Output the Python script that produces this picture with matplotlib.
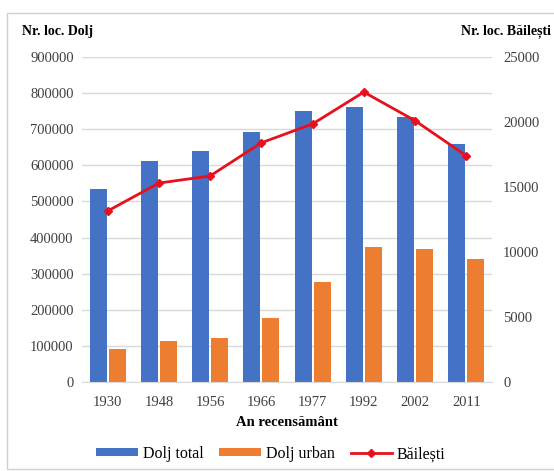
import matplotlib.pyplot as plt
import matplotlib.patches as mpatches
import numpy as np

years = ["1930", "1948", "1956", "1966", "1977", "1992", "2002", "2011"]
dolj_total = [535000, 613000, 641000, 691000, 750000, 761000, 734000, 660000]
dolj_urban = [91000, 114000, 122000, 177000, 277000, 374000, 368000, 341000]
bailesti = [13150, 15300, 15850, 18400, 19850, 22300, 20100, 17400]

blue = "#4472C4"
orange = "#ED7D31"
red = "#E8101C"
grid = "#D9D9D9"

plt.rcParams["font.family"] = ["Liberation Serif", "DejaVu Serif"]

fig = plt.figure(figsize=(5.54, 4.71), dpi=100)
ax = fig.add_axes([0.148, 0.189, 0.740, 0.690])
ax2 = ax.twinx()

x = np.arange(len(years))
w = 0.33
ax.bar(x - w / 2 - 0.02, dolj_total, w, color=blue, label="Dolj total", zorder=2)
ax.bar(x + w / 2 + 0.02, dolj_urban, w, color=orange, label="Dolj urban", zorder=2)
ax2.plot(x, bailesti, color=red, lw=2, marker="D", ms=4.5, label="Băilești", zorder=3)

ax.set_ylim(0, 900000)
ax.set_yticks(range(0, 900001, 100000))
ax2.set_ylim(0, 25000)
ax2.set_yticks(range(0, 25001, 5000))
ax.set_xlim(-0.5, len(years) - 0.5)
ax.set_xticks(x)
ax.set_xticklabels(years)

ax.grid(axis="y", color=grid, lw=1, zorder=0)
ax.set_axisbelow(True)
for a in (ax, ax2):
    for s in a.spines.values():
        s.set_visible(False)
    a.tick_params(length=0, labelsize=10.5, colors="#404040")
ax.spines["bottom"].set_visible(True)
ax.spines["bottom"].set_color(grid)
ax.tick_params(axis="y", pad=6)
ax2.tick_params(axis="y", pad=8)
ax.tick_params(axis="x", pad=10)

ax.set_xlabel("An recensământ", fontsize=10.5, fontweight="bold", labelpad=5)

fig.text(22 / 554, 1 - 31 / 471, "Nr. loc. Dolj", fontsize=10, fontweight="bold",
         va="center", ha="left")
fig.text(551 / 554, 1 - 31 / 471, "Nr. loc. Băilești", fontsize=10, fontweight="bold",
         va="center", ha="right")

h1, l1 = ax.get_legend_handles_labels()
h2, l2 = ax2.get_legend_handles_labels()
fig.legend(h1 + h2, l1 + l2, loc="center", bbox_to_anchor=(271 / 554, 1 - 454 / 471),
           ncol=3, frameon=False, fontsize=11.5, handlelength=2.6, handleheight=0.35,
           columnspacing=1.0, handletextpad=0.3)

fig.patches.append(mpatches.Rectangle((7 / 554, 2 / 471), 1, 456 / 471,
                                      transform=fig.transFigure, fill=False,
                                      edgecolor="#D0D0D0", lw=1))

fig.savefig("out.png", dpi=100)
